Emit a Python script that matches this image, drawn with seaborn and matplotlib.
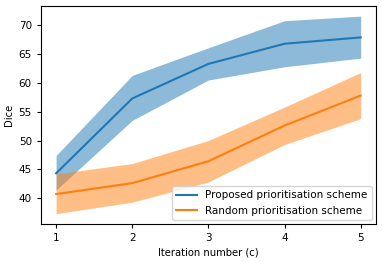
# Dice vs iteration number: proposed vs random prioritisation

import numpy as np
import pandas as pd
import matplotlib
matplotlib.use("Agg")
import matplotlib.pyplot as plt
import seaborn as sns

# data
iterations = [1, 2, 3, 4, 5]

proposed_mean = [44.3, 57.3, 63.3, 66.8, 67.9]
proposed_lower = [41.4, 53.5, 60.5, 62.8, 64.3]
proposed_upper = [47.4, 61.3, 66.1, 70.8, 71.6]

random_mean = [40.7, 42.6, 46.4, 52.6, 57.8]
random_lower = [37.3, 39.3, 42.8, 49.3, 53.8]
random_upper = [44.2, 46.0, 50.0, 55.8, 61.8]

labels = ["Proposed prioritisation scheme", "Random prioritisation scheme"]

df = pd.DataFrame({
    "Iteration": iterations * 2,
    "Dice": proposed_mean + random_mean,
    "Scheme": [labels[0]] * 5 + [labels[1]] * 5,
})

colors = ["#1f77b4", "#ff7f0e"]

fig, ax = plt.subplots(figsize=(3.82, 2.62), dpi=100)
fig.subplots_adjust(left=0.107, right=0.984, top=0.977, bottom=0.145)

sns.lineplot(data=df, x="Iteration", y="Dice", hue="Scheme",
             palette=colors, ax=ax, linewidth=1.5)
ax.fill_between(iterations, proposed_lower, proposed_upper,
                color=colors[0], alpha=0.5, linewidth=0)
ax.fill_between(iterations, random_lower, random_upper,
                color=colors[1], alpha=0.5, linewidth=0)

ax.set_xticks(iterations)
ax.set_xlim(0.8, 5.2)
ax.set_ylim(35.5, 73.35)
ax.set_xlabel("Iteration number (c)", fontsize=7.2, labelpad=3)
ax.set_ylabel("Dice", fontsize=7.2, labelpad=3)
ax.tick_params(labelsize=7.5, length=3)
ax.legend(loc="lower right", fontsize=7.5, title=None, borderaxespad=0.4)

plt.savefig("out.png", dpi=100)
